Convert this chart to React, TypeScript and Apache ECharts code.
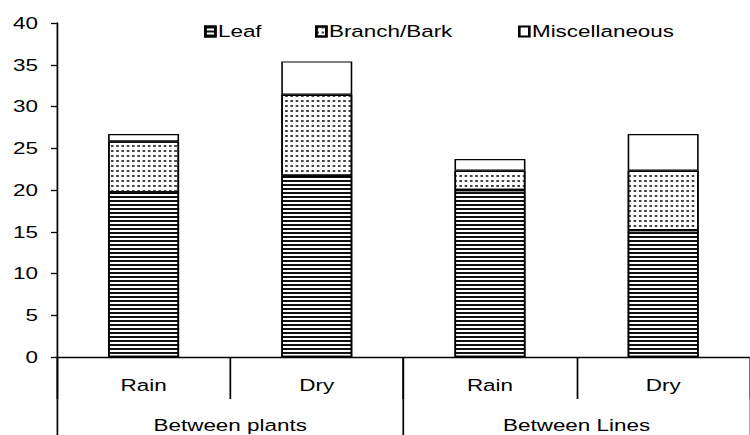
import React, { useEffect, useRef } from "react";
import * as echarts from "echarts";

const categories = ["Rain", "Dry", "Rain", "Dry"];
const groups = ["Between plants", "Between Lines"];
const leaf = [19.7, 21.7, 20.0, 15.2];
const branchBark = [6.1, 9.7, 2.3, 7.1];
const misc = [0.9, 4.0, 1.4, 4.4];
const seriesNames = ["Leaf", "Branch/Bark", "Miscellaneous"];
const yTicks = { min: 0, max: 40, interval: 5 };

const FONT = "'Liberation Sans', Arial, sans-serif";
// the reference is horizontally stretched; draw narrower and stretch with CSS
const SX = 1.32;
const W = 750 / SX;
const H = 435;
const px = (v: number) => v / SX;

export default function App() {
  const ref = useRef<HTMLDivElement>(null);
  useEffect(() => {
    if (!ref.current) return;
    const chart = echarts.init(ref.current, undefined, { renderer: "svg" });
    const border = { borderColor: "#000", borderWidth: 1.2 };
    const legendLefts = [204, 315, 518];
    const legends = seriesNames.map((n, i) => ({
      data: [n],
      left: px(legendLefts[i]),
      top: 23,
      padding: 0,
      itemWidth: px(10),
      itemHeight: 10,
      icon: "rect",
      textStyle: { fontFamily: FONT, fontSize: 17, color: "#000", padding: [0, 0, 0, -3] },
    }));
    chart.setOption({
      animation: false,
      backgroundColor: "#fff",
      textStyle: { fontFamily: FONT, color: "#000" },
      legend: legends,
      grid: { left: px(57), top: 23, bottom: 78, right: px(-14), containLabel: false },
      xAxis: [
        {
          type: "category",
          data: categories,
          position: "bottom",
          axisLine: { show: true, lineStyle: { color: "#000", width: 1.3 } },
          axisTick: { show: true, alignWithLabel: false, length: 42, lineStyle: { color: "#000", width: 1.3 } },
          axisLabel: { margin: 20, fontSize: 17, color: "#000", fontFamily: FONT },
        },
        {
          type: "category",
          data: groups,
          position: "bottom",
          axisLine: { show: false },
          axisTick: { show: true, alignWithLabel: false, length: 90, lineStyle: { color: "#000", width: 1.3 } },
          axisLabel: { margin: 60, fontSize: 17, color: "#000", fontFamily: FONT },
        },
      ],
      yAxis: {
        type: "value",
        min: yTicks.min,
        max: yTicks.max,
        interval: yTicks.interval,
        splitLine: { show: false },
        axisLine: { show: true, lineStyle: { color: "#000", width: 1.3 } },
        axisTick: { show: true, length: px(6), lineStyle: { color: "#000", width: 1.3 } },
        axisLabel: { margin: px(19), fontSize: 17, color: "#000", fontFamily: FONT },
      },
      series: [
        {
          name: seriesNames[0],
          type: "bar",
          stack: "total",
          barWidth: px(71),
          data: leaf,
          itemStyle: {
            color: "#fff",
            ...border,
            decal: {
              symbol: "rect",
              symbolSize: 1,
              dashArrayX: [1, 0],
              dashArrayY: [1.3, 1.2],
              rotation: 0,
              color: "#111",
              backgroundColor: "#fff",
            },
          },
        },
        {
          name: seriesNames[1],
          type: "bar",
          stack: "total",
          barWidth: px(71),
          data: branchBark,
          itemStyle: {
            color: "#fff",
            ...border,
            decal: {
              symbol: "rect",
              symbolSize: 1,
              dashArrayX: [1.2, 2],
              dashArrayY: [1.4, 2.4],
              rotation: 0,
              color: "#444",
              backgroundColor: "#fff",
            },
          },
        },
        {
          name: seriesNames[2],
          type: "bar",
          stack: "total",
          barWidth: px(71),
          data: misc,
          itemStyle: { color: "#fff", ...border },
        },
      ],
    });
    return () => chart.dispose();
  }, []);
  return (
    <div
      ref={ref}
      style={{
        position: "fixed",
        left: 0,
        top: 0,
        width: W,
        height: H,
        transform: `scaleX(${SX})`,
        transformOrigin: "0 0",
      }}
    />
  );
}
